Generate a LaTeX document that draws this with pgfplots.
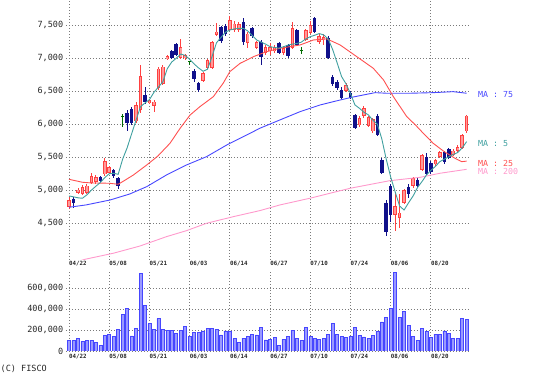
\documentclass[border=0pt]{standalone}
\usepackage{pgfplots}
\pgfplotsset{compat=1.18}
\usepackage{pgfplotstable}
\usepackage{fontspec}
\setmainfont{DejaVu Sans Mono}

\definecolor{upedge}{HTML}{FF4040}
\definecolor{upfill}{HTML}{FF9A9A}
\definecolor{downc}{HTML}{10108A}
\definecolor{dojic}{HTML}{006A00}
\definecolor{mafivec}{HTML}{40A0A0}
\definecolor{matwfc}{HTML}{FF5050}
\definecolor{masevc}{HTML}{4848FF}
\definecolor{matwoc}{HTML}{FF99CC}
\definecolor{volfill}{HTML}{9A9AFF}
\definecolor{voledge}{HTML}{4646FF}
\definecolor{gridc}{HTML}{7A7A7A}

\pgfplotstableread{
i O H L C
0 4750 4900 4710 4850
2 4960 5030 4940 5010
3 4950 5080 4920 5050
4 4960 5090 4940 5070
5 5110 5260 5090 5210
6 5130 5230 5100 5200
8 5240 5480 5220 5440
9 5260 5370 5240 5350
15 6040 6330 6010 6290
16 6210 6890 6170 6730
18 6320 6380 6300 6360
19 6270 6360 6190 6340
20 6550 6870 6520 6840
21 6610 6900 6590 6870
22 6985 7050 6970 7030
25 7000 7290 6980 7170
26 7000 7060 6970 7040
30 6650 6790 6630 6770
31 6850 6990 6830 6970
32 6850 7250 6830 7240
33 7350 7530 7330 7400
36 7430 7640 7410 7570
37 7430 7560 7400 7520
38 7420 7540 7400 7510
40 7230 7400 7150 7370
42 7150 7260 7130 7240
44 7080 7200 7050 7170
45 7100 7220 7050 7170
46 7100 7200 7080 7160
48 7080 7180 7040 7150
50 7150 7550 7130 7450
53 7280 7440 7260 7420
54 7380 7560 7360 7500
56 7240 7360 7210 7330
57 7270 7370 7200 7320
62 6500 6620 6480 6590
65 5980 6120 5950 6090
66 6120 6280 6100 6240
67 5970 6130 5950 6110
68 5890 6090 5860 6070
73 4630 4970 4380 4760
74 4580 4950 4430 4660
75 4810 5020 4790 5000
77 5060 5200 5040 5180
79 5310 5550 5290 5530
82 5390 5470 5370 5450
83 5510 5600 5490 5580
86 5540 5620 5520 5600
87 5590 5680 5570 5650
88 5640 5850 5620 5830
89 5890 6140 5870 6130
}\upt

\pgfplotstableread{
i O H L C
1 4870 4900 4730 4800
7 5200 5210 5120 5140
10 5300 5320 5190 5210
11 5180 5200 5020 5060
13 6170 6220 5900 6010
14 6230 6260 5980 6020
17 6440 6560 6310 6340
23 7100 7120 6990 7000
24 7210 7230 7030 7050
28 6810 6830 6640 6680
29 6620 6630 6480 6520
34 7470 7490 7230 7250
35 7490 7510 7340 7360
39 7550 7600 7200 7250
41 7450 7470 7300 7330
43 7250 7270 6900 7020
47 7220 7240 7060 7080
49 7190 7210 7000 7030
51 7420 7440 7180 7200
55 7600 7620 7380 7400
58 7300 7330 6980 7000
59 6720 6740 6580 6600
60 6640 6660 6510 6540
61 6520 6560 6380 6400
63 6470 6500 6380 6400
64 6140 6160 5920 5940
69 6130 6160 5820 5840
70 5450 5480 5240 5260
71 4810 4850 4300 4370
72 5060 5090 4520 4620
76 5050 5090 4880 4950
78 5150 5180 5040 5060
80 5500 5560 5230 5250
81 5410 5440 5250 5280
84 5580 5600 5400 5420
85 5620 5640 5470 5490
}\downt

\pgfplotstableread{
i O H L C
12 6120 6150 5960 6120
27 6940 6960 6890 6940
52 7110 7160 7060 7110
}\dojit

\pgfplotstableread{
i v
0 4913
1 4900
2 4885
3 4878
4 4930
5 5000
6 5060
7 5115
8 5190
9 5250
10 5256
11 5240
12 5470
13 5640
14 5850
15 6060
16 6264
17 6320
18 6370
19 6480
20 6560
21 6640
22 6840
23 6940
24 6996
25 7060
26 7040
27 6980
28 6910
29 6850
30 6800
31 6830
32 7020
33 7230
34 7310
35 7390
36 7425
37 7440
38 7448
39 7450
40 7410
41 7340
42 7273
43 7240
44 7210
45 7172
46 7160
47 7150
48 7170
49 7195
50 7210
51 7220
52 7240
53 7290
54 7323
55 7345
56 7370
57 7350
58 7290
59 7130
60 6930
61 6720
62 6610
63 6460
64 6290
65 6240
66 6180
67 6140
68 6060
69 6000
70 5780
71 5470
72 5200
73 4975
74 4760
75 4700
76 4810
77 4910
78 5040
79 5130
80 5230
81 5300
82 5360
83 5432
84 5470
85 5505
86 5540
87 5570
88 5640
89 5735
}\mafive

\pgfplotstableread{
i v
0 5165
3 5120
5 5110
9 5105
11 5090
12.5 5150
14.4 5230
17.4 5382
19.9 5518
22.6 5710
24.8 5930
27.1 6138
29.3 6264
32.3 6415
34.5 6618
36 6794
38.3 6920
41.3 7021
44.2 7096
47.2 7147
51.7 7197
54.7 7273
57.7 7290
60.7 7197
64.4 7021
68.1 6845
70.4 6668
72.6 6415
75.6 6113
77.5 5990
79.3 5861
81.5 5710
84 5583
86.4 5483
87.9 5432
89 5440
}\matwf

\pgfplotstableread{
i v
0 4742
3.8 4777
9.2 4852
13.6 4943
17.4 5054
21.8 5230
26.3 5382
30.8 5508
35.3 5684
39.8 5836
42.7 5937
47.2 6063
51.7 6188
56.2 6290
60.7 6365
63.3 6406
65.9 6441
68.5 6476
71.1 6467
76.3 6467
81.5 6476
86 6491
89 6467
}\masev

\pgfplotstableread{
i v
0 3880
3.6 3955
9.9 4046
15.9 4156
21.8 4297
26.3 4388
30.8 4500
36.8 4600
42.7 4691
47.2 4777
53.9 4878
62.9 5029
71.8 5144
78.6 5195
83 5256
89 5316
}\matwo

\pgfplotstableread{
i v
0 98000
1 98000
2 120000
3 91000
4 98000
5 104000
6 82000
7 57000
8 151000
9 158000
10 139000
11 205000
12 347000
13 403000
14 145000
15 214000
16 743000
17 438000
18 261000
19 208000
20 309000
21 208000
22 198000
23 198000
24 170000
25 198000
26 236000
27 142000
28 180000
29 180000
30 192000
31 214000
32 214000
33 208000
34 154000
35 192000
36 192000
37 117000
38 85000
39 123000
40 139000
41 161000
42 154000
43 224000
44 107000
45 113000
46 129000
47 57000
48 110000
49 142000
50 198000
51 120000
52 98000
53 224000
54 139000
55 120000
56 113000
57 120000
58 161000
59 265000
60 158000
61 142000
62 129000
63 139000
64 224000
65 151000
66 135000
67 120000
68 151000
69 186000
70 277000
71 318000
72 403000
73 750000
74 318000
75 381000
76 246000
77 139000
78 104000
79 214000
80 189000
81 129000
82 161000
83 161000
84 192000
85 167000
86 120000
87 120000
88 309000
89 299000
}\volt

\pgfplotsset{
  chartbase/.style={
    scale only axis,
    width=404.3pt,
    xmin=-0.7, xmax=89.8,
    axis line style={draw=none},
    tick style={draw=none},
    major tick length=0pt,
    xtick={0,9,18,27,36,45,54,63,72,81},
    xticklabels={04/22,05/08,05/21,06/03,06/14,06/27,07/10,07/24,08/06,08/20},
    grid=major,
    major grid style={draw=gridc, dash pattern=on 1pt off 2pt, line width=0.9pt},
    xticklabel style={anchor=west, inner sep=0pt, font=\fontsize{5.8}{6}\selectfont\bfseries, text=black!85},
    yticklabel style={anchor=east, inner sep=0pt, xshift=-2.5pt, font=\fontsize{8.5}{10}\selectfont, text=black!85},
    scaled y ticks=false,
    /pgf/number format/assume math mode=true,
    /pgf/number format/fixed,
    /pgf/number format/1000 sep={,},
  },
  wick/.style={draw=none, mark=none, forget plot,
    error bars/.cd, y dir=both, y explicit, error mark=none,
    error bar style={line width=0.8pt, draw=#1}},
  body/.style 2 args={draw=none, mark=none, forget plot,
    error bars/.cd, y dir=both, y explicit, error mark=none,
    error bar style={line width=#2, draw=#1}},
}

\begin{document}
\begin{tikzpicture}
\useasboundingbox (0,0) rectangle (538pt,382pt);
\clip (0,0) rectangle (538pt,382pt);

% price panel
\begin{axis}[chartbase,
  at={(65.9pt,122pt)}, anchor=south west,
  height=260pt,
  ymin=3944, ymax=7878,
  ytick={4500,5000,5500,6000,6500,7000,7500},
  xticklabel style={yshift=-4pt},
  clip=true]

% up candles
\addplot[wick=upedge] table[x=i, y expr={(\thisrow{H}+\thisrow{L})/2}, y error expr={(\thisrow{H}-\thisrow{L})/2}] {\upt};
\addplot[body={upedge}{3.5pt}] table[x=i, y expr={(\thisrow{O}+\thisrow{C})/2}, y error expr={abs(\thisrow{C}-\thisrow{O})/2}] {\upt};
\addplot[body={upfill}{1.7pt}] table[x=i, y expr={(\thisrow{O}+\thisrow{C})/2}, y error expr={max(abs(\thisrow{C}-\thisrow{O})/2-12,0)}] {\upt};

% down candles
\addplot[wick=downc] table[x=i, y expr={(\thisrow{H}+\thisrow{L})/2}, y error expr={(\thisrow{H}-\thisrow{L})/2}] {\downt};
\addplot[body={downc}{3.5pt}] table[x=i, y expr={(\thisrow{O}+\thisrow{C})/2}, y error expr={abs(\thisrow{C}-\thisrow{O})/2}] {\downt};

% doji
\addplot[wick=dojic] table[x=i, y expr={(\thisrow{H}+\thisrow{L})/2}, y error expr={(\thisrow{H}-\thisrow{L})/2}] {\dojit};
\addplot[only marks, mark=-, mark size=1.8pt, mark options={line width=1pt, draw=dojic}, forget plot] table[x=i, y=C] {\dojit};

% moving averages
\addplot[matwoc, line width=0.9pt, mark=none] table[x=i, y=v] {\matwo};
\addplot[masevc, line width=0.9pt, mark=none] table[x=i, y=v] {\masev};
\addplot[matwfc, line width=0.9pt, mark=none] table[x=i, y=v] {\matwf};
\addplot[mafivec, line width=0.9pt, mark=none] table[x=i, y=v] {\mafive};
\end{axis}

% volume panel
\begin{axis}[chartbase,
  at={(65.9pt,31pt)}, anchor=south west,
  height=80.3pt,
  ymin=0, ymax=765000,
  ytick={0,200000,400000,600000},
  xticklabel style={yshift=-5.7pt},
  clip=true]
\addplot[ybar, bar width=3pt, fill=volfill, draw=voledge, line width=0.5pt] table[x=i, y=v] {\volt};
\end{axis}

% MA labels
\begin{scope}[every node/.style={anchor=west, inner sep=0pt, font=\fontsize{8.3}{9}\selectfont}]
\node[text=masevc] at (478pt,287pt) {MA : 75};
\node[text=mafivec] at (478pt,238pt) {MA : 5};
\node[text=matwoc] at (478pt,211pt) {MA : 200};
\node[text=matwfc] at (478pt,219pt) {MA : 25};
\end{scope}

\node[anchor=west, inner sep=0pt, font=\fontsize{8.5}{10}\selectfont, text=black!85] at (0.5pt,13pt) {(C) FISCO};
\end{tikzpicture}
\end{document}
